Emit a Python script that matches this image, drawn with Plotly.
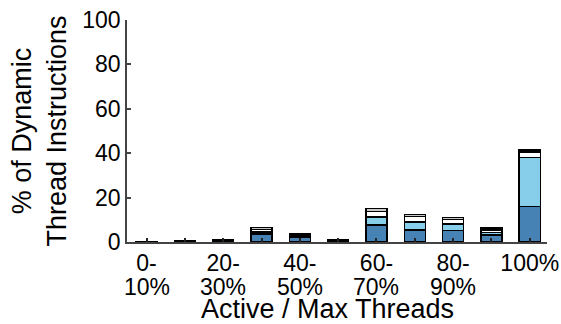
import plotly.graph_objects as go

categories = ["0-10%", "10-20%", "20-30%", "30-40%", "40-50%", "50-60%",
              "60-70%", "70-80%", "80-90%", "90-100%", "100%"]
tick_line1 = ["0-", "", "20-", "", "40-", "", "60-", "", "80-", "", "100%"]
tick_line2 = ["10%", "", "30%", "", "50%", "", "70%", "", "90%", "", ""]
dark_vals = [0.05, 0.3, 0.5, 3.6, 2.1, 0.5, 7.6, 5.4, 5.1, 3.2, 16.0]
light_vals = [0.02, 0.1, 0.15, 1.0, 0.6, 0.2, 3.6, 3.7, 3.0, 1.0, 22.0]
white_vals = [0.02, 0.1, 0.1, 1.1, 0.5, 0.1, 2.6, 2.3, 2.0, 1.2, 2.6]
gray_vals = [0.01, 0.05, 0.05, 0.9, 0.5, 0.1, 1.4, 1.1, 1.0, 0.8, 0.8]

series = [
    ("dark", dark_vals, "#4682B4"),
    ("light", light_vals, "#87CEEB"),
    ("white", white_vals, "#FFFFFF"),
    ("gray", gray_vals, "#C8C8C8"),
]

x_idx = list(range(len(categories)))

fig = go.Figure()
for name, vals, col in series:
    fig.add_trace(go.Bar(
        x=x_idx, y=vals, name=name,
        marker=dict(color=col, line=dict(color="#000000", width=1.5)),
        showlegend=False,
    ))

font_family = "Liberation Sans, Arial, Helvetica, sans-serif"
tick_size = 23
title_size = 27

annotations = []
for i, txt in enumerate(tick_line2):
    if txt:
        annotations.append(dict(
            x=i, xref="x", y=-0.137, yref="paper",
            text=txt, showarrow=False, xanchor="center", yanchor="top",
            font=dict(size=tick_size),
        ))
annotations.append(dict(
    x=0.477, xref="paper", y=-0.302, yref="paper",
    text="Active / Max Threads", showarrow=False,
    xanchor="center", yanchor="middle", font=dict(size=title_size),
))

fig.update_layout(
    barmode="stack",
    bargap=0.45,
    width=561, height=324,
    margin=dict(l=127, r=14, t=20, b=82),
    paper_bgcolor="white", plot_bgcolor="white",
    font=dict(family=font_family, size=tick_size, color="#000000"),
    annotations=annotations,
)
fig.update_xaxes(
    range=[-0.51, 10.45],
    tickmode="array", tickvals=x_idx, ticktext=tick_line1,
    ticks="inside", ticklen=4, tickwidth=1.5, tickcolor="#222222",
    showline=True, linecolor="#444444", linewidth=1.5,
    showgrid=False, zeroline=False,
    tickfont=dict(size=tick_size),
    automargin=False,
)
fig.update_yaxes(
    range=[0, 100],
    tickvals=[0, 20, 40, 60, 80, 100],
    ticks="inside", ticklen=4, tickwidth=1.5, tickcolor="#444444",
    showline=True, linecolor="#444444", linewidth=1.5,
    showgrid=False, zeroline=False,
    tickfont=dict(size=tick_size),
    title=dict(text="% of Dynamic<br>Thread Instructions",
               font=dict(size=title_size), standoff=8),
    automargin=False,
)

fig.write_html("out.html", config={"displayModeBar": False},
               post_script="document.body.style.margin='0';")
